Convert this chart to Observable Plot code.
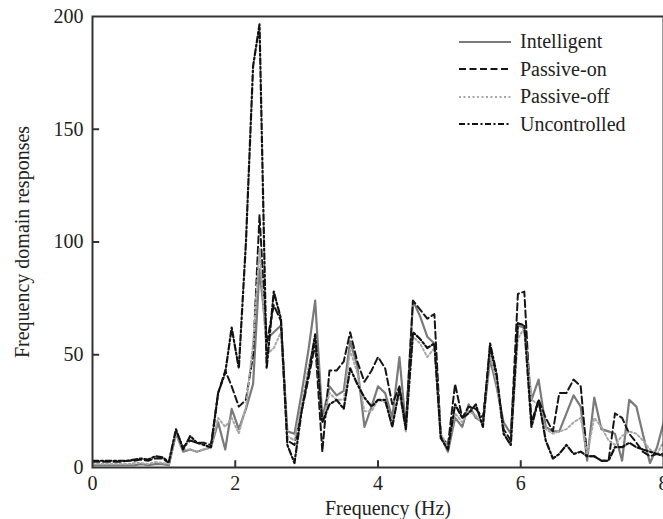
<!DOCTYPE html>
<html><head><meta charset="utf-8">
<script src="https://cdn.jsdelivr.net/npm/d3@7"></script>
<script src="https://cdn.jsdelivr.net/npm/@observablehq/plot@0.6"></script>
<style>
body{margin:0;background:#fff;}
#wrap{position:relative;width:663px;height:519px;overflow:hidden;}
#legend{position:absolute;left:459px;top:28px;font-family:"Liberation Serif","Times New Roman",serif;font-size:20px;color:#222;}
.row{display:flex;align-items:center;height:27.5px;white-space:nowrap;}
.row svg{width:52px;height:10px;margin-right:9px;flex:none;}
</style></head><body><div id="wrap"></div>
<script>
const freq = [0.00,0.10,0.20,0.29,0.39,0.49,0.59,0.68,0.78,0.88,0.98,1.07,1.17,1.27,1.37,1.46,1.56,1.66,1.76,1.86,1.95,2.05,2.15,2.25,2.34,2.44,2.54,2.64,2.73,2.83,2.93,3.03,3.12,3.22,3.32,3.42,3.52,3.61,3.71,3.81,3.91,4.00,4.10,4.20,4.30,4.39,4.49,4.59,4.69,4.79,4.88,4.98,5.08,5.18,5.27,5.37,5.47,5.57,5.66,5.76,5.86,5.96,6.05,6.15,6.25,6.35,6.45,6.54,6.64,6.74,6.84,6.93,7.03,7.13,7.23,7.32,7.42,7.52,7.62,7.71,7.81,7.91,8.01];

const intelligent = [1,1,1,1,1,1,1,1.5,1,1.5,1.5,1,
  15,7,8,7,8,9,20,8,26,17,26,37,88,
  57,60,63,16,15,33,53,74,22,
  36,32,34,56,45,18,27,36,33,22,49,18,
  74,67,58,55,14,7,22,18,28,22,20,48,36,20,15,
  63,62,30,39,
  18,16,16,24,32,27,3,31,17,16,15,3,30,27,15,2,9,21];

const passiveOn = [2.5,2.5,2.5,2.5,2.5,3,3,3.5,3,4,4,2,
  16,9,12,11,11,10,33,43,36,27,30,50,112,
  55,72,65,12,10,25,40,55,7,
  43,43,47,60,47,38,43,49,44,28,36,18,
  74,70,66,68,14,10,37,22,27,26,22,52,40,17,12,
  77,78,20,30,
  22,16,33,33,39,36,5,5,3,3,24,22,15,11,7,5,6,6];

const passiveOff = [1.5,1.5,1.5,1.5,1.5,1.5,2,2,1.5,2.5,2,1.5,
  15,8,8,7,8,9,22,18,22,15,27,55,97,
  50,53,60,14,12,28,45,58,20,
  33,30,30,52,42,25,25,30,29,20,33,16,
  58,55,49,53,15,9,24,20,25,23,19,50,38,15,10,
  57,62,30,28,
  17,15,16,17,20,22,6,22,18,12,10,14,16,15,12,8,6,12];

const uncontrolled = [3,3,3,3,3,3,3.5,4,3.5,5,4.5,2.5,
  17,8,14,11,10,9,33,42,62,44,100,178,196.5,
  44,78,66,10,2,25,42,59,20,
  28,30,26,44,37,31,27,30,30,18,35,17,
  60,57,53,55,13,8,28,22,24,28,18,55,42,15,10,
  64,63,18,30,
  12,4,6,10,6,7,5,5,3,3,9,9,11,9,8,7,6,5];

const seriesNames = ["Intelligent","Passive-on","Passive-off","Uncontrolled"];
const xTicks = [0,2,4,6,8];
const yTicks = [0,50,100,150,200];
const xInnerTicks = [2,4,6];
const yInnerTicks = [50,100,150];

const styles = {
  "Intelligent": {stroke:"#7a7a7a", dash:null, width:2.2},
  "Passive-on": {stroke:"#161616", dash:"7,3.5", width:2},
  "Passive-off": {stroke:"#a8a8a8", dash:"2,2.5", width:2},
  "Uncontrolled": {stroke:"#111111", dash:"6,2.5,2,2.5", width:2.2}
};
const valuesByName = {"Intelligent": intelligent, "Passive-on": passiveOn, "Passive-off": passiveOff, "Uncontrolled": uncontrolled};

const lineMarks = seriesNames.map(name => {
  const s = styles[name];
  const data = freq.map((f, i) => ({f, v: valuesByName[name][i]}));
  return Plot.line(data, {x: "f", y: "v", stroke: s.stroke, strokeWidth: s.width, strokeDasharray: s.dash, clip: true});
});

const font = "'Liberation Serif','Times New Roman',serif";
const chart = Plot.plot({
  width: 663, height: 519,
  marginLeft: 92, marginRight: 0, marginTop: 16, marginBottom: 52,
  style: {fontFamily: font, fontSize: "20px", background: "#fff", color: "#222"},
  x: {domain: [0, 8]},
  y: {domain: [0, 200]},
  marks: [
    ...lineMarks,
    Plot.ruleX(xInnerTicks, {x: d => d, y1: 0, y2: 3, stroke: "#333", strokeWidth: 2}),
    Plot.ruleY(yInnerTicks, {y: d => d, x1: 0, x2: 0.1, stroke: "#333", strokeWidth: 2}),
    Plot.frame({stroke: "#333", strokeWidth: 2}),
    Plot.axisX({ticks: xTicks, tickSize: 0, tickPadding: 8, fontSize: 20, label: null, tickFormat: d => String(d)}),
    Plot.axisY({ticks: yTicks, tickSize: 0, tickPadding: 9, fontSize: 20, label: null, tickFormat: d => String(d)}),
    Plot.text(["Frequency (Hz)"], {frameAnchor: "bottom", textAnchor: "middle", dy: 47, dx: 10, fontSize: 20, fill: "#222"}),
    Plot.text(["Frequency domain responses"], {frameAnchor: "left", textAnchor: "middle", rotate: -90, dx: -70, fontSize: 20, fill: "#222"})
  ]
});
const wrap = document.getElementById("wrap");
wrap.appendChild(chart);

const legend = document.createElement("div");
legend.id = "legend";
for (const name of seriesNames) {
  const s = styles[name];
  const row = document.createElement("div");
  row.className = "row";
  row.innerHTML = `<svg viewBox="0 0 52 10"><line x1="0" y1="5" x2="52" y2="5" stroke="${s.stroke}" stroke-width="${s.width}" ${s.dash ? `stroke-dasharray="${s.dash}"` : ""}/></svg><span>${name}</span>`;
  legend.appendChild(row);
}
wrap.appendChild(legend);
</script></body></html>
